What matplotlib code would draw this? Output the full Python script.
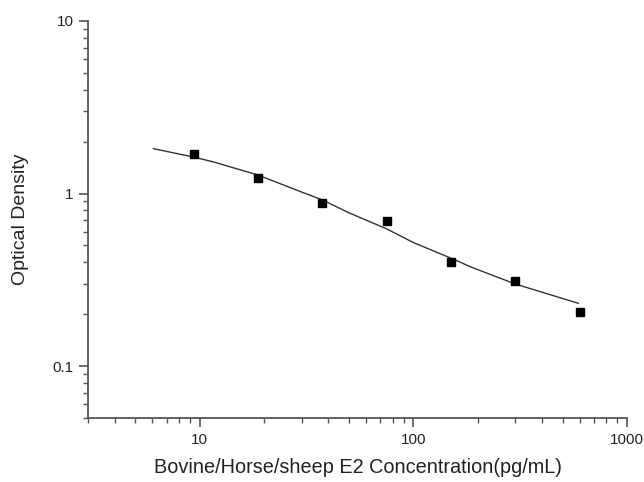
import matplotlib
matplotlib.use("Agg")
import matplotlib.pyplot as plt
from matplotlib.ticker import LogLocator, FixedLocator, NullFormatter

plt.rcParams['font.family'] = ['Liberation Sans', 'DejaVu Sans']

# Standard points
conc = [9.375, 18.75, 37.5, 75, 150, 300, 600]
od = [1.69, 1.23, 0.886, 0.69, 0.399, 0.312, 0.205]

# Fitted curve
curve_x = [6.07, 9.4, 11.7, 18.75, 20.7, 30, 37.5, 50, 75, 100, 160, 185, 300, 592]
curve_y = [1.82, 1.626, 1.52, 1.28, 1.22, 1.02, 0.919, 0.773, 0.624, 0.52, 0.408, 0.376, 0.299, 0.231]

xticks = [10, 100, 1000]
xtick_labels = ["10", "100", "1000"]
yticks = [0.1, 1, 10]
ytick_labels = ["0.1", "1", "10"]

fig = plt.figure(figsize=(6.44, 4.82), dpi=100)
ax = fig.add_axes([88/644, 1-418/482, (627-88)/644, (418-21)/482])

ax.plot(curve_x, curve_y, color='#333333', lw=1.0)
ax.plot(conc, od, linestyle='none', marker='s', markersize=6, color='black')

ax.set_xscale('log')
ax.set_yscale('log')
ax.set_xlim(3, 1000)
ax.set_ylim(0.05, 10)

ax.xaxis.set_major_locator(FixedLocator(xticks))
ax.set_xticklabels(xtick_labels)
ax.yaxis.set_major_locator(FixedLocator(yticks))
ax.set_yticklabels(ytick_labels)
ax.xaxis.set_minor_locator(LogLocator(base=10, subs=range(2, 10), numticks=20))
ax.yaxis.set_minor_locator(LogLocator(base=10, subs=range(2, 10), numticks=20))
ax.xaxis.set_minor_formatter(NullFormatter())
ax.yaxis.set_minor_formatter(NullFormatter())

for s in ['top', 'right']:
    ax.spines[s].set_visible(False)
for s in ['left', 'bottom']:
    ax.spines[s].set_color('#555555')
    ax.spines[s].set_linewidth(1.3)

ax.tick_params(which='major', direction='out', length=6.5, width=1.2, color='#555555',
               labelsize=11, labelcolor='#222222', pad=4)
ax.tick_params(which='minor', direction='out', length=3.6, width=1.0, color='#555555')

ax.set_xlabel('Bovine/Horse/sheep E2 Concentration(pg/mL)', fontsize=14.3, color='#222222', labelpad=8)
ax.set_ylabel('Optical Density', fontsize=14, color='#222222', labelpad=17)

fig.savefig('out.png', dpi=100)
